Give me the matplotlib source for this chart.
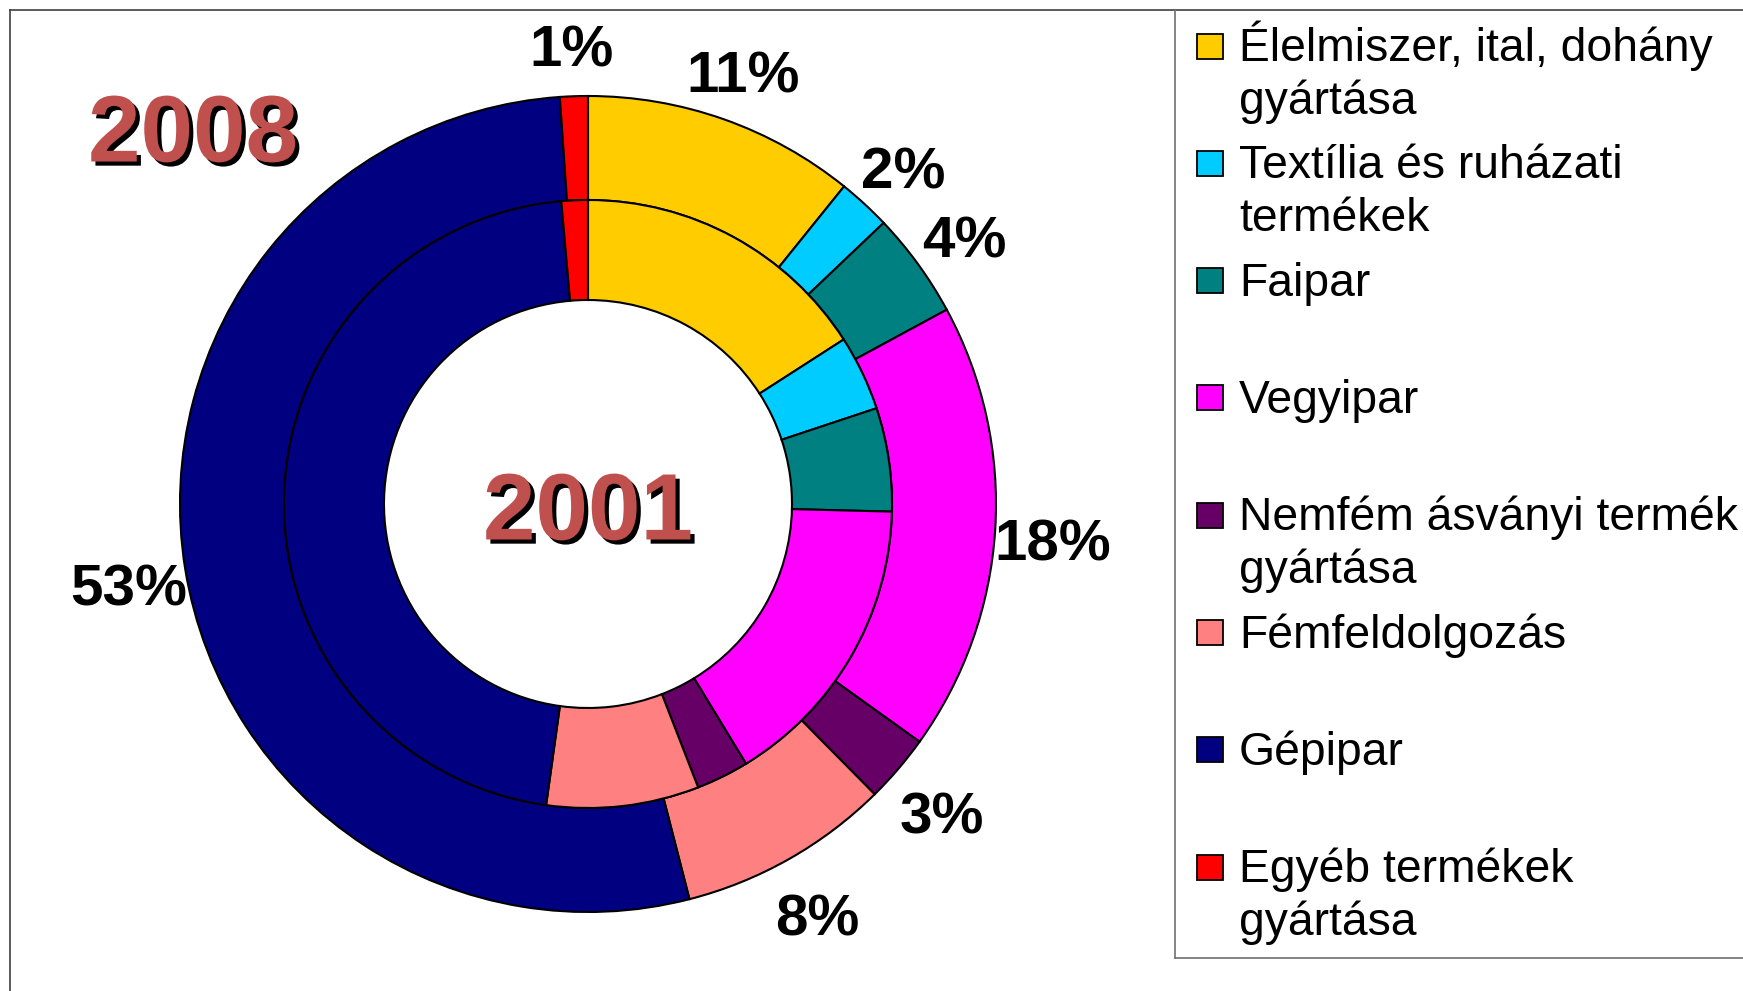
import matplotlib
matplotlib.use("Agg")
import matplotlib.pyplot as plt
import matplotlib.patheffects as pe
from matplotlib.patches import Rectangle
from matplotlib.lines import Line2D

plt.rcParams['font.family'] = ['Liberation Sans', 'DejaVu Sans']

# ---- data ----
categories = ["Élelmiszer, ital, dohány\ngyártása",
              "Textília és ruházati\ntermékek",
              "Faipar",
              "Vegyipar",
              "Nemfém ásványi termék\ngyártása",
              "Fémfeldolgozás",
              "Gépipar",
              "Egyéb termékek\ngyártása"]
colors = ["#FFCC00", "#00CCFF", "#008080", "#FF00FF",
          "#660066", "#FF8080", "#000080", "#FF0000"]
share_2008 = [10.8, 2.1, 4.2, 17.8, 2.7, 8.4, 52.9, 1.1]   # outer ring
share_2001 = [15.9, 4.0, 5.5, 15.9, 2.8, 8.1, 46.4, 1.4]   # inner ring
year_outer = "2008"
year_inner = "2001"

# ---- figure in pixel units ----
W, H = 1743, 991
fig = plt.figure(figsize=(W / 100, H / 100), dpi=100)
ax = fig.add_axes([0, 0, 1, 1])


def Y(y):
    return H - y


cx, cy = 588, Y(504)
R_out, R_mid, R_in = 408, 304, 204

edge = dict(edgecolor="black", linewidth=1.5)
_, _, autotexts = ax.pie(share_2008, radius=R_out, center=(cx, cy), startangle=90,
                         counterclock=False, colors=colors,
                         wedgeprops=dict(width=R_out - R_mid, **edge),
                         autopct="%1.0f%%", pctdistance=1.14,
                         textprops=dict(fontsize=42, fontweight="bold", color="black"))
for t in autotexts:
    x, y = t.get_position()
    t.set_position((x, y - 12))

ax.pie(share_2001, radius=R_mid, center=(cx, cy), startangle=90,
       counterclock=False, colors=colors,
       wedgeprops=dict(width=R_mid - R_in, **edge))

ax.set_xlim(0, W)
ax.set_ylim(0, H)
ax.set_aspect("auto")
ax.axis("off")

# year titles with shadow
shadow = [pe.SimplePatchShadow(offset=(3, -3), shadow_rgbFace="black", alpha=1.0),
          pe.Normal()]
ax.text(193, Y(137), year_outer, fontsize=68, fontweight="bold",
        color="#C0504D", ha="center", va="center", path_effects=shadow)
ax.text(cx, Y(515), year_inner, fontsize=68, fontweight="bold",
        color="#C0504D", ha="center", va="center", path_effects=shadow)

# chart frame
ax.add_line(Line2D([10, W], [Y(10), Y(10)], color="#404040", lw=1.2))
ax.add_line(Line2D([10, 10], [Y(10), 0], color="#404040", lw=1.2))

# legend box
ax.add_line(Line2D([1175, 1175], [Y(10), Y(958)], color="#707070", lw=1.2))
ax.add_line(Line2D([1175, W], [Y(958), Y(958)], color="#707070", lw=1.2))

# legend entries
y0, step = 46, 117.3
for i, (lab, col) in enumerate(zip(categories, colors)):
    yc = y0 + i * step
    ax.add_patch(Rectangle((1197, Y(yc + 12.5)), 26, 25, facecolor=col,
                           edgecolor="black", linewidth=1.3))
    for j, line in enumerate(lab.split("\n")):
        ax.text(1239, Y(yc + 15 + j * 53), line, fontsize=33.3,
                ha="left", va="baseline", color="black")

fig.savefig("out.png", dpi=100)
